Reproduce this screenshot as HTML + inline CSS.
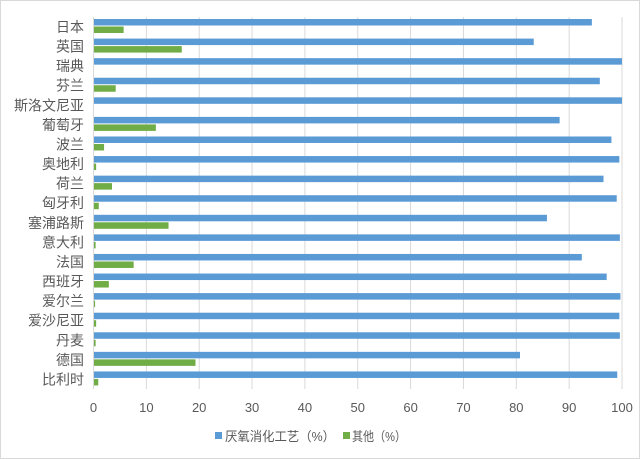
<!DOCTYPE html><html><head><meta charset="utf-8"><style>body{margin:0;background:#fff}svg{display:block}text{font-family:"Liberation Sans","Noto Sans CJK SC",sans-serif;fill:#595959}</style></head><body>
<svg id="sv" width="640" height="459" xmlns="http://www.w3.org/2000/svg">
<rect x="0.5" y="0.5" width="639" height="458" fill="#fff" stroke="#d9d9d9"/>
<g id="g"></g>
</svg>
<script>
(function(){
var names=["日本","英国","瑞典","芬兰","斯洛文尼亚","葡萄牙","波兰","奥地利","荷兰","匈牙利","塞浦路斯","意大利","法国","西班牙","爱尔兰","爱沙尼亚","丹麦","德国","比利时"];
var a=[94.3,83.3,100,95.8,100,88.2,98,99.5,96.5,99,85.8,99.6,92.4,97.1,99.7,99.5,99.6,80.7,99.1];
var b=[5.7,16.7,0,4.2,0,11.8,2,0.5,3.5,1,14.2,0.4,7.6,2.9,0.3,0.5,0.4,19.3,0.9];
var x0=93.5,s=5.285,T=17,bh=19.58,h="";
for(var i=0;i<=10;i++){var x=x0+i*10*s;h+='<line x1="'+x+'" y1="'+T+'" x2="'+x+'" y2="389" stroke="#d9d9d9"/><text x="'+x+'" y="412" font-size="13" text-anchor="middle">'+(i*10)+'</text>';}
for(var j=0;j<names.length;j++){var y=T+j*bh;
h+='<rect x="'+x0+'" y="'+(y+2)+'" width="'+(a[j]*s)+'" height="6.5" fill="#5b9bd5"/>';
if(b[j]>0)h+='<rect x="'+x0+'" y="'+(y+9.5)+'" width="'+(b[j]*s)+'" height="6.5" fill="#70ad47"/>';
h+='<text x="84" y="'+(y+15)+'" font-size="14" text-anchor="end" fill="#404040">'+names[j]+'</text>';}
h+='<line x1="'+x0+'" y1="'+T+'" x2="'+x0+'" y2="389" stroke="#d9d9d9"/>';
h+='<rect x="215" y="432" width="7" height="7" fill="#5b9bd5"/><text x="225" y="441" font-size="13" textLength="110" lengthAdjust="spacingAndGlyphs">厌氧消化工艺（%）</text><rect x="343" y="432" width="7" height="7" fill="#70ad47"/><text x="352" y="441" font-size="13" textLength="54" lengthAdjust="spacingAndGlyphs">其他（%）</text>';
document.getElementById("g").innerHTML=h;
})();
</script>
</body></html>
